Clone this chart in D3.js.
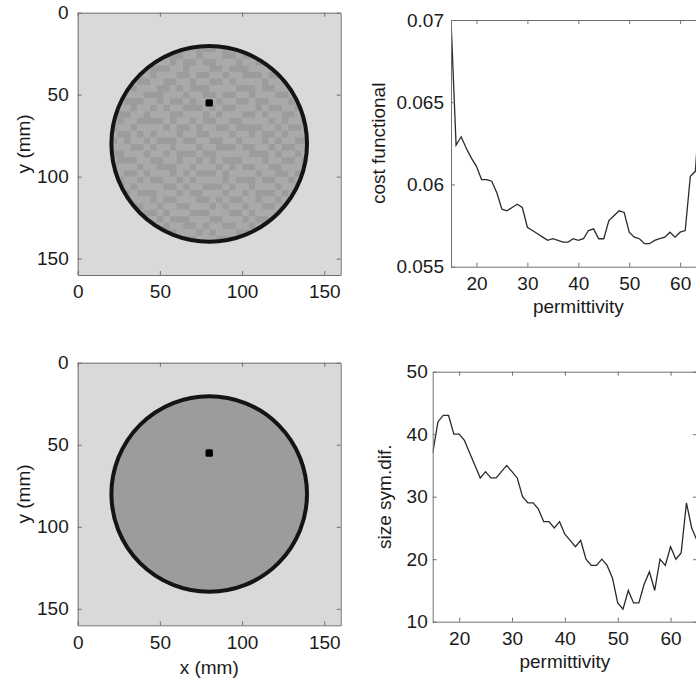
<!DOCTYPE html>
<html>
<head>
<meta charset="utf-8">
<script src="https://cdn.jsdelivr.net/npm/d3@7"></script>
<style>
  body { margin: 0; background: #ffffff; }
  text { font-family: "Liberation Sans", Arial, Helvetica, sans-serif; fill: #1a1a1a; }
</style>
</head>
<body>
<script>
// permittivity sweep
const permittivity = d3.range(15, 66);
const costFunctional = [
  0.0700, 0.0624, 0.0629, 0.0622, 0.0616, 0.0611, 0.0603, 0.0603, 0.0602, 0.0595,
  0.0585, 0.0584, 0.0586, 0.0588, 0.0586, 0.0574, 0.0572, 0.0570, 0.0568, 0.0566,
  0.0567, 0.0566, 0.0565, 0.0565, 0.0567, 0.0566, 0.0567, 0.0572, 0.0573, 0.0567,
  0.0567, 0.0578, 0.0581, 0.0584, 0.0583, 0.0571, 0.0568, 0.0567, 0.0564, 0.0564,
  0.0566, 0.0567, 0.0568, 0.0571, 0.0568, 0.0571, 0.0572, 0.0605, 0.0608, 0.0655,
  0.0668
];
const sizeSymDif = [
  37, 42, 43, 43, 40, 40, 39, 37, 35, 33,
  34, 33, 33, 34, 35, 34, 33, 30, 29, 29,
  28, 26, 26, 25, 26, 24, 23, 22, 23, 20,
  19, 19, 20, 19, 17, 13, 12, 15, 13, 13,
  16, 18, 15, 20, 19, 22, 20, 21, 29, 25,
  23
];
const permTicks = [20, 30, 40, 50, 60];
const costTicks = [0.055, 0.06, 0.065, 0.07];
const symTicks = [10, 20, 30, 40, 50];
const mmTicks = [0, 50, 100, 150];

// reconstructed object (mm)
const domainCenter = [80, 80];
const domainRadius = 59.5;
const targetCenter = [80, 55];
const targetSize = 4.5;
const cellSize = 4;
const cellOrigin = [20, 20];
// texture of the top reconstruction: 1 = lighter cell, 0 = darker cell
const textureRows = [
  "010011100101100010111001011010",
  "110110010001101110010011100100",
  "001100111010010011101100010111",
  "100111000110111001000111101001",
  "011001011100100110110001001110",
  "110100110011011001011110110001",
  "001011100101000111100010011011",
  "101110001110110010011011100100",
  "010001101001011101100100111010",
  "111011010110001010011101001101",
  "000110111001110101110010110010",
  "101100001011010011001111010110",
  "011011110100101100100001101001",
  "100101011101100111011010010111",
  "010110100010011001101110101100",
  "111001011011101100010011010011",
  "001110110100010011111000101101",
  "100011001101101010001110110010",
  "011101100011011101010011001110",
  "110010111010100010111101100101",
  "001101001101011110100010011010",
  "101011110010110001011011101100",
  "010100011101001110110100010111",
  "110111010011100101001101101001",
  "001001101100111010110110010110",
  "100110010111000111001011110100",
  "011011101000111001110100101011",
  "101100110110010110011010010101",
  "010011001011101011100101101100",
  "110101110100011100011010011010"
];

const W = 696, H = 684;
const FS = "19px";
const svg = d3.select("body").append("svg").attr("width", W).attr("height", H);
const axisColor = "#707070";
const tick = 4;

function styleAxis(g) {
  g.selectAll("path.domain").attr("stroke", axisColor).attr("stroke-width", 1);
  g.selectAll(".tick line").attr("stroke", axisColor);
  g.selectAll(".tick text").style("font-size", FS)
    .style("font-family", '"Liberation Sans", Arial, sans-serif').attr("fill", "#1a1a1a");
}

function frame(g, x, y, xTicks, yTicks, xFmt, yFmt, yLabelGap) {
  const [x0, x1] = x.range();
  const [y0, y1] = y.range();
  g.append("g").attr("transform", `translate(0,${Math.max(y0, y1)})`)
    .call(d3.axisBottom(x).tickValues(xTicks).tickFormat(xFmt).tickSize(-tick).tickSizeOuter(0).tickPadding(10))
    .call(styleAxis);
  g.append("g").attr("transform", `translate(0,${Math.min(y0, y1)})`)
    .call(d3.axisTop(x).tickValues(xTicks).tickFormat("").tickSize(-tick).tickSizeOuter(0))
    .call(styleAxis);
  g.append("g").attr("transform", `translate(${x0},0)`)
    .call(d3.axisLeft(y).tickValues(yTicks).tickFormat(yFmt).tickSize(-tick).tickSizeOuter(0).tickPadding(yLabelGap))
    .call(styleAxis);
  g.append("g").attr("transform", `translate(${x1},0)`)
    .call(d3.axisRight(y).tickValues(yTicks).tickFormat("").tickSize(-tick).tickSizeOuter(0))
    .call(styleAxis);
}

function imagePanel(top, bottom, noisy, showXLabel, id) {
  const x = d3.scaleLinear().domain([0, 160]).range([77.7, 340.7]);
  const y = d3.scaleLinear().domain([0, 160]).range([top, bottom]);
  const g = svg.append("g");
  g.append("rect").attr("x", x(0)).attr("y", y(0))
    .attr("width", x(160) - x(0)).attr("height", y(160) - y(0)).attr("fill", "#d9d9d9");

  g.append("clipPath").attr("id", id).append("circle")
    .attr("cx", x(domainCenter[0])).attr("cy", y(domainCenter[1]))
    .attr("r", x(domainRadius) - x(0));

  g.append("circle").attr("cx", x(domainCenter[0])).attr("cy", y(domainCenter[1]))
    .attr("r", x(domainRadius) - x(0)).attr("fill", "#9c9c9c");

  if (noisy) {
    const cells = [];
    textureRows.forEach((row, r) => {
      row.split("").forEach((c, k) => {
        if (c === "1") cells.push({ i: k, j: r });
      });
    });
    g.append("g").attr("clip-path", `url(#${id})`).selectAll("rect").data(cells).join("rect")
      .attr("x", d => x(cellOrigin[0] + d.i * cellSize))
      .attr("y", d => y(cellOrigin[1] + d.j * cellSize))
      .attr("width", x(cellSize) - x(0) + 0.3)
      .attr("height", y(cellSize) - y(0) + 0.3)
      .attr("fill", "#aaaaaa");
  }

  g.append("circle").attr("cx", x(domainCenter[0])).attr("cy", y(domainCenter[1]))
    .attr("r", x(domainRadius) - x(0)).attr("fill", "none")
    .attr("stroke", "#141414").attr("stroke-width", 4);

  g.append("rect")
    .attr("x", x(targetCenter[0] - targetSize / 2)).attr("y", y(targetCenter[1] - targetSize / 2))
    .attr("width", x(targetSize) - x(0)).attr("height", y(targetSize) - y(0))
    .attr("rx", 1.5).attr("fill", "#000");

  frame(g, x, y, mmTicks, mmTicks, d3.format("d"), d3.format("d"), 9);

  g.append("text").attr("transform", `translate(30,${(top + bottom) / 2}) rotate(-90)`)
    .attr("text-anchor", "middle").style("font-size", FS).text("y (mm)");
  if (showXLabel) {
    g.append("text").attr("x", x(80)).attr("y", 674)
      .attr("text-anchor", "middle").style("font-size", FS).text("x (mm)");
  }
}

function linePanel(left, right, top, bottom, values, yDomain, yTicks, yFmt, yLabel, labelX, gap, id) {
  const x = d3.scaleLinear().domain([15, 65]).range([left, right]);
  const y = d3.scaleLinear().domain(yDomain).range([bottom, top]);
  const g = svg.append("g");
  g.append("rect").attr("x", left).attr("y", top).attr("width", right - left).attr("height", bottom - top).attr("fill", "#fff");
  g.append("clipPath").attr("id", id).append("rect")
    .attr("x", left).attr("y", top - 1).attr("width", right - left).attr("height", bottom - top + 2);
  const line = d3.line().x((d, i) => x(permittivity[i])).y(d => y(d));
  g.append("path").datum(values).attr("clip-path", `url(#${id})`)
    .attr("d", line).attr("fill", "none").attr("stroke", "#2a2a2a").attr("stroke-width", 1.3);
  frame(g, x, y, permTicks, yTicks, d3.format("d"), yFmt, gap);
  g.append("text").attr("transform", `translate(${labelX},${(top + bottom) / 2}) rotate(-90)`)
    .attr("text-anchor", "middle").style("font-size", FS).text(yLabel);
  g.append("text").attr("x", x(40)).attr("y", bottom + 46)
    .attr("text-anchor", "middle").style("font-size", FS).text("permittivity");
}

imagePanel(12.7, 275, true, false, "clipTop");
imagePanel(362.7, 625.3, false, true, "clipBottom");

const costFmt = v => (v === 0.06 || v === 0.07) ? d3.format(".2f")(v) : d3.format(".3f")(v);
linePanel(451, 705.6, 20, 266.7, costFunctional, [0.055, 0.07], costTicks, costFmt, "cost functional", 385, 7, "clipCost");
linePanel(432.7, 697, 371.7, 621.7, sizeSymDif, [10, 50], symTicks, d3.format("d"), "size sym.dif.", 391, 5, "clipSym");
</script>
</body>
</html>
